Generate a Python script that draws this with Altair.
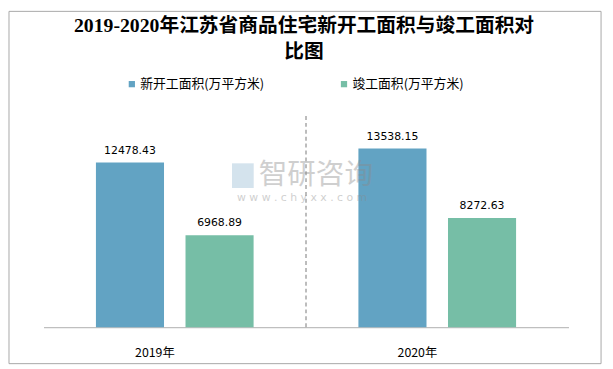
import altair as alt
import pandas as pd

years = ["2019年", "2020年"]
series = ["新开工面积(万平方米)", "竣工面积(万平方米)"]
new_start = [12478.43, 13538.15]
completed = [6968.89, 8272.63]
colors = ["#62A3C3", "#76BEA6"]
title_lines = ["2019-2020年江苏省商品住宅新开工面积与竣工面积对", "比图"]

rows = []
for i, y in enumerate(years):
    rows.append({"year": y, "series": series[0], "value": new_start[i], "label": f"{new_start[i]:.2f}"})
    rows.append({"year": y, "series": series[1], "value": completed[i], "label": f"{completed[i]:.2f}"})
df = pd.DataFrame(rows)

W, H = 532, 214

x_enc = alt.X("year:N", sort=years, scale=alt.Scale(paddingInner=0, paddingOuter=0),
              axis=alt.Axis(title=None, labelAngle=0, ticks=False, tickSize=0, domainColor="#bfbfbf",
                            domainWidth=1.2, labelPadding=26, labelFontSize=12.5,
                            labelFont="Noto Sans CJK SC", labelColor="#000000"))
xo_enc = alt.XOffset("series:N", sort=series, scale=alt.Scale(paddingInner=0.24, paddingOuter=0.585))
y_enc = alt.Y("value:Q", scale=alt.Scale(domain=[0, 16000]), axis=None)

base = alt.Chart(df)

bars = base.mark_bar().encode(
    x=x_enc, xOffset=xo_enc, y=y_enc,
    color=alt.Color("series:N", sort=series, scale=alt.Scale(domain=series, range=colors),
                    legend=alt.Legend(title=None, orient="none", legendX=83, legendY=-39,
                                      direction="horizontal", symbolType="square", symbolSize=40,
                                      symbolStrokeWidth=0, labelFontSize=13, labelOffset=2,
                                      labelFont="Noto Sans CJK SC", labelColor="#000000",
                                      columnPadding=74)),
)

labels = base.mark_text(baseline="bottom", dy=-7, fontSize=11, font="DejaVu Sans", color="#000000").encode(
    x=x_enc, xOffset=xo_enc, y=y_enc, text="label:N"
)

divider_df = pd.DataFrame({"year": [years[1]]})
divider = alt.Chart(divider_df).mark_rule(color="#a6a6a6", strokeDash=[4, 3], strokeWidth=1.5).encode(
    x=alt.X("year:N", sort=years, bandPosition=0),
    y=alt.value(0), y2=alt.value(H),
)

wm1 = alt.Chart(pd.DataFrame({"t": ["智研咨询"]})).mark_text(
    fontSize=29, font="Noto Sans CJK SC", color="#8a8a8a", opacity=0.4, align="center", baseline="middle"
).encode(x=alt.value(276), y=alt.value(60), text="t:N")
wm2 = alt.Chart(pd.DataFrame({"t": ["w w w . c h y x x . c o m"]})).mark_text(
    fontSize=11, font="DejaVu Sans", color="#8a8a8a", opacity=0.4, align="center", baseline="middle"
).encode(x=alt.value(262), y=alt.value(83), text="t:N")
logo = alt.Chart(pd.DataFrame({"t": [1]})).mark_rect(color="#a9c7dc", opacity=0.5).encode(
    x=alt.value(191), x2=alt.value(213), y=alt.value(48), y2=alt.value(73)
)

title1 = alt.Chart(pd.DataFrame({"t": [title_lines[0]]})).mark_text(
    font="Liberation Serif, Noto Sans CJK SC", fontSize=20, fontWeight="bold", color="#000000",
    align="center", baseline="middle"
).encode(x=alt.value(W / 2 - 2), y=alt.value(-91), text="t:N")
title2 = alt.Chart(pd.DataFrame({"t": [title_lines[1]]})).mark_text(
    font="Liberation Serif, Noto Sans CJK SC", fontSize=20, fontWeight="bold", color="#000000",
    align="center", baseline="middle"
).encode(x=alt.value(W / 2 - 2), y=alt.value(-65), text="t:N")

border = alt.Chart(pd.DataFrame({"t": [1]})).mark_rect(fillOpacity=0, stroke="#a8a8a8", strokeWidth=1).encode(
    x=alt.value(-35), x2=alt.value(565), y=alt.value(-106), y2=alt.value(251)
)

chart = alt.layer(border, divider, bars, labels, logo, wm1, wm2, title1, title2).properties(
    width=W, height=H,
    autosize=alt.AutoSizeParams(type="none"),
    padding={"left": 36, "top": 107, "right": 37, "bottom": 40},
).configure(background="#ffffff").configure_view(stroke="transparent", strokeWidth=0)

chart.save("out.html", embed_options={"renderer": "svg", "actions": False})
